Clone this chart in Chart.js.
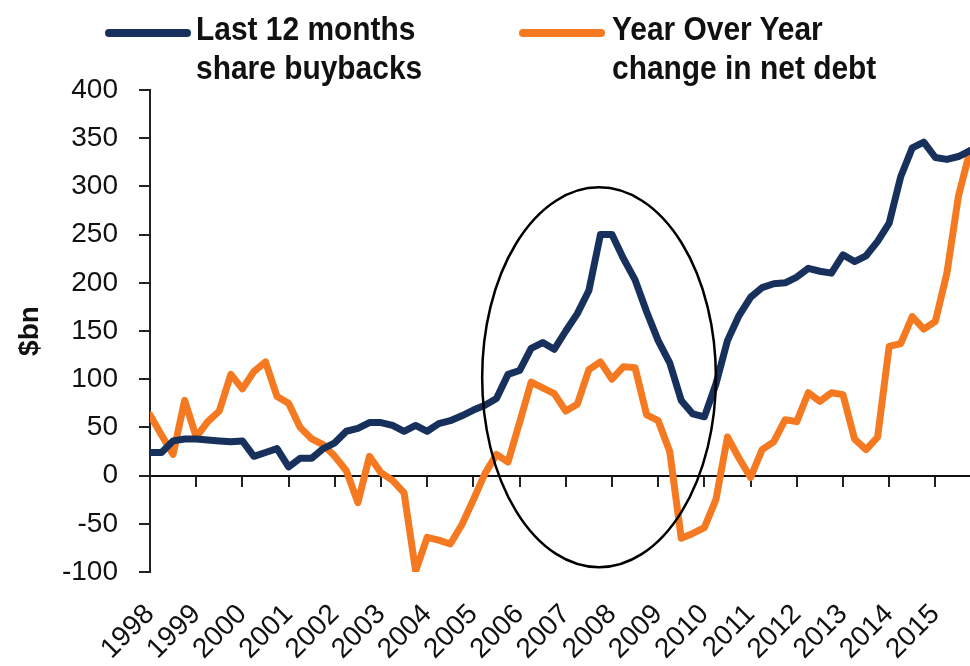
<!DOCTYPE html>
<html>
<head>
<meta charset="utf-8">
<title>Buybacks vs net debt</title>
<script src="https://cdn.jsdelivr.net/npm/chart.js@4.4.1/dist/chart.umd.min.js"></script>
<style>
  body { margin: 0; background: #fff; }
  #wrap { position: relative; width: 970px; height: 666px; }
  #chart { position: absolute; left: 0; top: 0; }
  .leg { position: absolute; top: 9px; font-family: "Liberation Sans", Arial, sans-serif;
         font-weight: bold; font-size: 34px; line-height: 39px; color: #111; white-space: nowrap;
         transform: scaleX(0.88); transform-origin: 0 0; }
  .sw { position: absolute; top: 29px; height: 8px; border-radius: 4px; }
</style>
</head>
<body>
<div id="wrap">
  <canvas id="chart" width="970" height="666"></canvas>
  <div class="sw" style="left:105px;width:86px;background:#17315c"></div>
  <div class="leg" style="left:196px">Last 12 months<br>share buybacks</div>
  <div class="sw" style="left:519px;width:86px;background:#f47920"></div>
  <div class="leg" style="left:612px">Year Over Year<br>change in net debt</div>
</div>
<script>
// quarterly data, 1998 Q1 .. 2015 Q4 ($bn)
const firstYear = 1998;
const lastYear = 2015;
const yearTicks = [1998, 1999, 2000, 2001, 2002, 2003, 2004, 2005, 2006, 2007, 2008, 2009, 2010, 2011, 2012, 2013, 2014, 2015];
const yTicks = [-100, -50, 0, 50, 100, 150, 200, 250, 300, 350, 400];

const buybacks = [
  24, 24, 36, 38, 38, 37, 36, 35, 36, 20, 24, 28,
  9, 18, 18, 28, 34, 46, 49, 55, 55, 52, 46, 52,
  46, 54, 57, 62, 68, 73, 80, 105, 109, 132, 138, 131,
  150, 168, 192, 250, 250, 225, 203, 170, 140, 117, 78, 64,
  61, 95, 140, 166, 185, 195, 199, 200, 206, 215, 212, 210,
  229, 222, 228, 243, 262, 310, 340, 346, 330, 328, 331, 337
];
const netDebtChange = [
  63, 42, 22, 78, 40, 56, 67, 105, 90, 108, 118, 82,
  75, 50, 38, 32, 20, 5, -28, 20, 3, -5, -18, -99,
  -64, -67, -71, -51, -25, 2, 22, 14, 55, 97, 91, 85,
  67, 74, 110, 118, 100, 113, 112, 63, 57, 25, -65, -60,
  -54, -25, 40, 18, -2, 27, 35, 58, 56, 86, 77, 86,
  84, 38, 27, 40, 134, 137, 165, 152, 160, 210, 290, 337
];

// circled period (data units)
const ringCenter = [2007.72, 102];
const ringRadius = [2.53, 197];

const quarters = [];
for (let y = firstYear; y <= lastYear; y++) for (let q = 0; q < 4; q++) quarters.push(y + q / 4);

const pts = arr => arr.map((v, i) => ({ x: quarters[i], y: v }));
const axisFont = { family: '"Liberation Sans", Arial, sans-serif', size: 28 };

const ringPlugin = {
  id: 'ring',
  afterDatasetsDraw(chart) {
    const { ctx, scales: { x, y } } = chart;
    const cx = x.getPixelForValue(ringCenter[0]);
    const cy = y.getPixelForValue(ringCenter[1]);
    const rx = x.getPixelForValue(ringCenter[0] + ringRadius[0]) - cx;
    const ry = cy - y.getPixelForValue(ringCenter[1] + ringRadius[1]);
    ctx.save();
    ctx.beginPath();
    ctx.ellipse(cx, cy, rx, ry, 0, 0, Math.PI * 2);
    ctx.lineWidth = 2.5;
    ctx.strokeStyle = '#000';
    ctx.stroke();
    ctx.restore();
  }
};

new Chart(document.getElementById('chart'), {
  type: 'line',
  data: {
    datasets: [
      { label: 'Last 12 months share buybacks', data: pts(buybacks), borderColor: '#17315c', borderWidth: 7 },
      { label: 'Year Over Year change in net debt', data: pts(netDebtChange), borderColor: '#f47920', borderWidth: 7 }
    ]
  },
  options: {
    responsive: false,
    devicePixelRatio: 1,
    animation: false,
    layout: { padding: { top: 90, right: 0, left: 0, bottom: 0 } },
    elements: {
      point: { radius: 0 },
      line: { tension: 0, borderJoinStyle: 'round', borderCapStyle: 'round' }
    },
    plugins: { legend: { display: false }, tooltip: { enabled: false } },
    scales: {
      x: {
        type: 'linear',
        min: firstYear,
        max: lastYear + 0.75,
        afterBuildTicks: s => { s.ticks = yearTicks.map(v => ({ value: v })); },
        afterFit: s => { s.height = 94; s.paddingLeft = 0; s.paddingRight = 0; },
        grid: { display: false },
        border: { display: false },
        ticks: {
          font: { family: '"Liberation Sans", Arial, sans-serif', size: 28 },
          color: '#111',
          autoSkip: false,
          minRotation: 45, maxRotation: 45,
          padding: 18,
          callback: v => String(v)
        }
      },
      x2: {
        type: 'linear',
        position: { y: 0 },
        min: firstYear,
        max: lastYear + 0.75,
        afterBuildTicks: s => { s.ticks = yearTicks.map(v => ({ value: v })); },
        grid: { drawOnChartArea: false, tickLength: 10, color: '#222', lineWidth: 2 },
        border: { color: '#111', width: 2 },
        ticks: { display: false }
      },
      y: {
        min: -100,
        max: 400,
        afterBuildTicks: s => { s.ticks = yTicks.map(v => ({ value: v })); },
        afterFit: s => { s.width = 150; },
        grid: { drawOnChartArea: false, tickLength: 11, color: '#222', lineWidth: 2 },
        border: { color: '#222', width: 2 },
        ticks: { font: axisFont, color: '#111', padding: 21 },
        title: {
          display: true,
          text: '$bn',
          font: { family: '"Liberation Sans", Arial, sans-serif', size: 28, weight: 'bold' },
          color: '#111',
          padding: { top: 13, bottom: 0 }
        }
      }
    }
  },
  plugins: [ringPlugin]
});
</script>
</body>
</html>
